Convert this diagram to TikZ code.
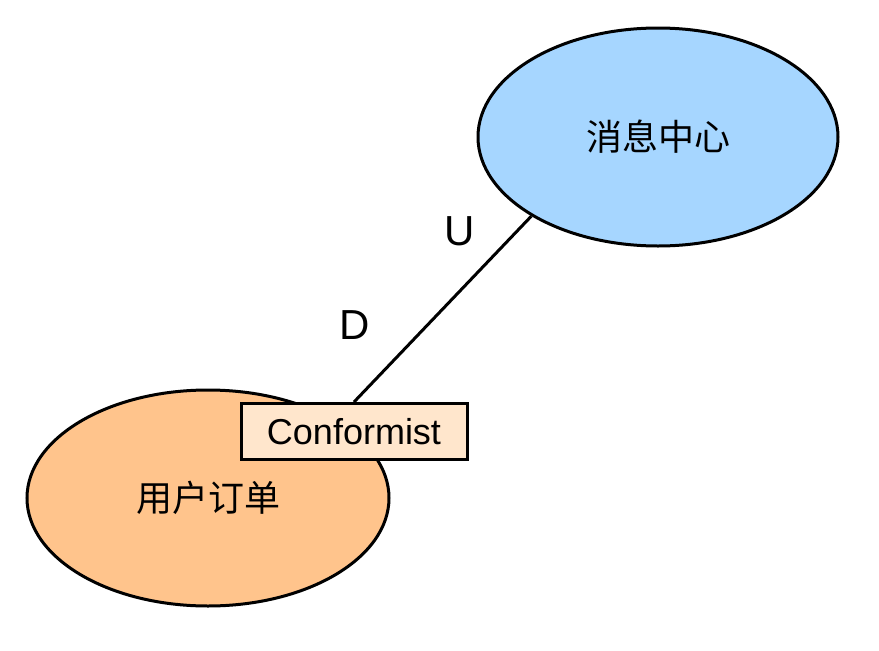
\documentclass[tikz,border=0pt]{standalone}
\usepackage{fontspec}
\setmainfont{Liberation Sans}
\newfontfamily\cjk{Noto Sans CJK SC}
\usetikzlibrary{shapes.geometric}
\definecolor{blueFill}{RGB}{166,214,255}
\definecolor{orangeFill}{RGB}{255,196,140}
\definecolor{boxFill}{RGB}{255,230,204}
\tikzset{
  ctx/.style={ellipse, draw=black, line width=3pt, inner sep=0pt},
  lbl/.style={font=\fontsize{42}{46}\selectfont, inner sep=0pt},
  conf/.style={draw=black, line width=3pt, fill=boxFill, inner sep=0pt,
    minimum width=226pt, minimum height=56pt, font=\fontsize{36}{40}\selectfont}
}
\begin{document}
\begin{tikzpicture}[x=1pt,y=-1pt]
\useasboundingbox (0,0) rectangle (879,651);
\node[ctx, fill=blueFill, minimum width=360pt, minimum height=218pt] (blue) at (658,137) {\cjk\fontsize{36}{40}\selectfont 消息中心};
\node[ctx, fill=orangeFill, minimum width=362pt, minimum height=216pt] (orange) at (208,498) {\cjk\fontsize{36}{40}\selectfont 用户订单};
\node[conf] (box) at (354,431.5) {Conformist};
\draw[line width=3pt] (box.north) -- (blue.212);
\node[lbl] (u) at (460,231) {U};
\node[lbl] (d) at (355,325) {D};
\end{tikzpicture}
\end{document}
